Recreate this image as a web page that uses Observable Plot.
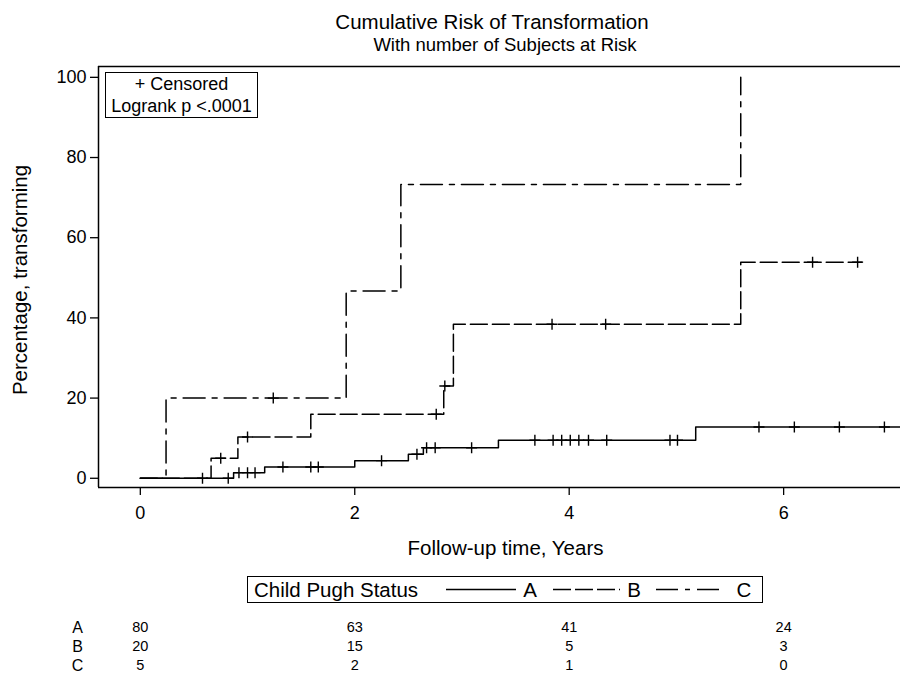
<!DOCTYPE html>
<html><head><meta charset="utf-8">
<script src="https://cdn.jsdelivr.net/npm/d3@7"></script>
<script src="https://cdn.jsdelivr.net/npm/@observablehq/plot@0.6"></script>
<style>
body{margin:0;background:#fff;font-family:"Liberation Sans",Arial,sans-serif;color:#000}
#wrap{width:900px;height:676px;position:relative;overflow:hidden;background:#fff}
.abs{position:absolute;white-space:nowrap}
</style></head><body><div id="wrap"></div>
<script>
// ---- data ----
const groups = ["A", "B", "C"];
// step curves: time (years) and cumulative % transforming
const timeA = [0, 0.87, 1.16, 2.0, 2.5, 2.64, 3.34, 5.18, 7.09];
const pctA  = [0, 1.4, 2.8, 4.4, 6.0, 7.6, 9.5, 12.8, 12.8];
const timeB = [0, 0.66, 0.91, 1.59, 2.83, 2.92, 5.6, 6.73];
const pctB  = [0, 5.0, 10.3, 16.0, 23.0, 38.4, 53.9, 53.9];
const timeC = [0, 0.24, 1.92, 2.43, 5.6];
const pctC  = [0, 20.0, 46.7, 73.3, 100];
// censored observations
const censorTimeA = [0.58, 0.82, 0.92, 1.0, 1.07, 1.33, 1.59, 1.66, 2.25, 2.58, 2.67, 2.75, 3.09, 3.68, 3.85, 3.93, 4.01, 4.09, 4.18, 4.35, 4.94, 5.01, 5.77, 6.10, 6.52, 6.94];
const censorPctA  = [0, 0, 1.4, 1.4, 1.4, 2.8, 2.8, 2.8, 4.4, 6.0, 7.6, 7.6, 7.6, 9.5, 9.5, 9.5, 9.5, 9.5, 9.5, 9.5, 9.5, 9.5, 12.8, 12.8, 12.8, 12.8];
const censorTimeB = [0.75, 1.0, 2.76, 2.84, 3.84, 4.34, 6.27, 6.69];
const censorPctB  = [5.0, 10.3, 16.0, 23.0, 38.4, 38.4, 53.9, 53.9];
const censorTimeC = [1.24];
const censorPctC  = [20.0];
// number at risk
const atRiskTimes = [0, 2, 4, 6];
const atRiskA = [80, 63, 41, 24];
const atRiskB = [20, 15, 5, 3];
const atRiskC = [5, 2, 1, 0];
// axes
const xTicks = [0, 2, 4, 6];
const yTicks = [0, 20, 40, 60, 80, 100];
const xDomain = [-0.39, 7.09];
const yDomain = [-2.3, 102.7];

// ---- build tables ----
const times = {A: timeA, B: timeB, C: timeC};
const pcts = {A: pctA, B: pctB, C: pctC};
const cTimes = {A: censorTimeA, B: censorTimeB, C: censorTimeC};
const cPcts = {A: censorPctA, B: censorPctB, C: censorPctC};
const risks = {A: atRiskA, B: atRiskB, C: atRiskC};
const steps = g => times[g].map((t, i) => ({group: g, t, pct: pcts[g][i]}));
const censors = groups.flatMap(g => cTimes[g].map((t, i) => ({group: g, t, pct: cPcts[g][i]})));
const riskRows = groups.flatMap(g => atRiskTimes.map((t, i) => ({group: g, t, n: risks[g][i]})));

const dashes = {A: null, B: "17,5", C: "22,7,5,7"};
const plusSymbol = {
  draw(ctx, size) {
    const r = Math.sqrt(size / Math.PI);
    ctx.moveTo(-r, 0); ctx.lineTo(r, 0);
    ctx.moveTo(0, -r); ctx.lineTo(0, r);
  }
};
const FONT = "'Liberation Sans', Arial, sans-serif";
const wrap = document.getElementById("wrap");

function addDiv(html, css) {
  const d = document.createElement("div");
  d.className = "abs";
  d.innerHTML = html;
  Object.assign(d.style, css);
  wrap.appendChild(d);
  return d;
}

// titles
addDiv("Cumulative Risk of Transformation", {left: "0px", width: "984px", top: "9px", textAlign: "center", fontSize: "20.5px", lineHeight: "26px"});
addDiv("With number of Subjects at Risk", {left: "0px", width: "1010px", top: "34px", textAlign: "center", fontSize: "18.5px", lineHeight: "22px"});

// main chart
const main = Plot.plot({
  width: 900, height: 510,
  marginTop: 10, marginBottom: 79, marginLeft: 98, marginRight: 0,
  style: {fontFamily: FONT, fontSize: "18px", color: "#000", background: "transparent", overflow: "visible"},
  x: {domain: xDomain},
  y: {domain: yDomain},
  marks: [
    Plot.ruleX([xDomain[0]], {stroke: "#000", strokeWidth: 1.5}),
    Plot.ruleY([yDomain[0], yDomain[1]], {stroke: "#000", strokeWidth: 1.5}),
    Plot.axisX({ticks: xTicks, tickSize: 8, tickPadding: 11, label: null, tickFormat: d => String(d), strokeWidth: 1.3, fontSize: 18}),
    Plot.axisY({ticks: yTicks, tickSize: 8, tickPadding: 4, label: null, tickFormat: d => String(d), strokeWidth: 1.3, fontSize: 18}),
    ...groups.map(g => Plot.line(steps(g), {x: "t", y: "pct", curve: "step-after", stroke: "#000", strokeWidth: 1.5, strokeDasharray: dashes[g]})),
    Plot.dot(censors, {x: "t", y: "pct", symbol: plusSymbol, r: 5.5, fill: "none", stroke: "#000", strokeWidth: 1.4}),
    Plot.text(["Percentage, transforming"], {frameAnchor: "left", textAnchor: "middle", lineAnchor: "middle", rotate: -90, dx: -78, dy: 3, fontSize: 20.5, fill: "#000"}),
    Plot.text(["Follow-up time, Years"], {frameAnchor: "bottom", textAnchor: "middle", lineAnchor: "middle", dy: 61, dx: 6, fontSize: 20.5, fill: "#000"})
  ]
});
main.style.position = "absolute";
main.style.left = "0px";
main.style.top = "56px";
wrap.appendChild(main);

// inset box
addDiv("+ Censored<br>Logrank p &lt;.0001", {left: "105px", top: "72px", width: "151px", height: "43px", border: "1.5px solid #000", textAlign: "center", fontSize: "18px", lineHeight: "21.5px", paddingTop: "1px"});

// legend
const leg = addDiv("", {left: "247px", top: "576px", width: "514px", height: "25px", border: "1.5px solid #000"});
const ls = d3.select(leg).append("svg").attr("width", 514).attr("height", 25).style("display", "block");
ls.append("text").attr("x", 6).attr("y", 19.5).attr("font-size", 20.5).attr("font-family", FONT).text("Child Pugh Status");
const legItems = [
  {g: "A", x1: 198, x2: 268, tx: 282},
  {g: "B", x1: 305, x2: 372, tx: 386},
  {g: "C", x1: 408, x2: 476, tx: 496}
];
legItems.forEach(it => {
  ls.append("line").attr("x1", it.x1).attr("x2", it.x2).attr("y1", 12.5).attr("y2", 12.5)
    .attr("stroke", "#000").attr("stroke-width", 1.4)
    .attr("stroke-dasharray", it.g === "B" ? "18,4,18,4,18,4,2,4" : it.g === "C" ? "22,7,5,7" : null);
  ls.append("text").attr("x", it.tx).attr("y", 19.5).attr("text-anchor", "middle").attr("font-size", 20.5).attr("font-family", FONT).text(it.g);
});

// at-risk table
const risk = Plot.plot({
  width: 900, height: 68,
  marginTop: 0, marginBottom: 0, marginLeft: 98, marginRight: 0,
  style: {fontFamily: FONT, color: "#000", background: "transparent", overflow: "visible"},
  x: {domain: xDomain, axis: null},
  y: {type: "point", domain: groups, range: [18.5, 58], padding: 0, axis: null},
  marks: [
    Plot.text(riskRows, {x: "t", y: "group", text: d => String(d.n), fontSize: 14.5, fill: "#000"}),
    Plot.text(groups, {y: d => d, text: d => d, frameAnchor: "left", textAnchor: "middle", dx: -21, fontSize: 16, fill: "#000"})
  ]
});
risk.style.position = "absolute";
risk.style.left = "0px";
risk.style.top = "608px";
wrap.appendChild(risk);
</script>
</body></html>
